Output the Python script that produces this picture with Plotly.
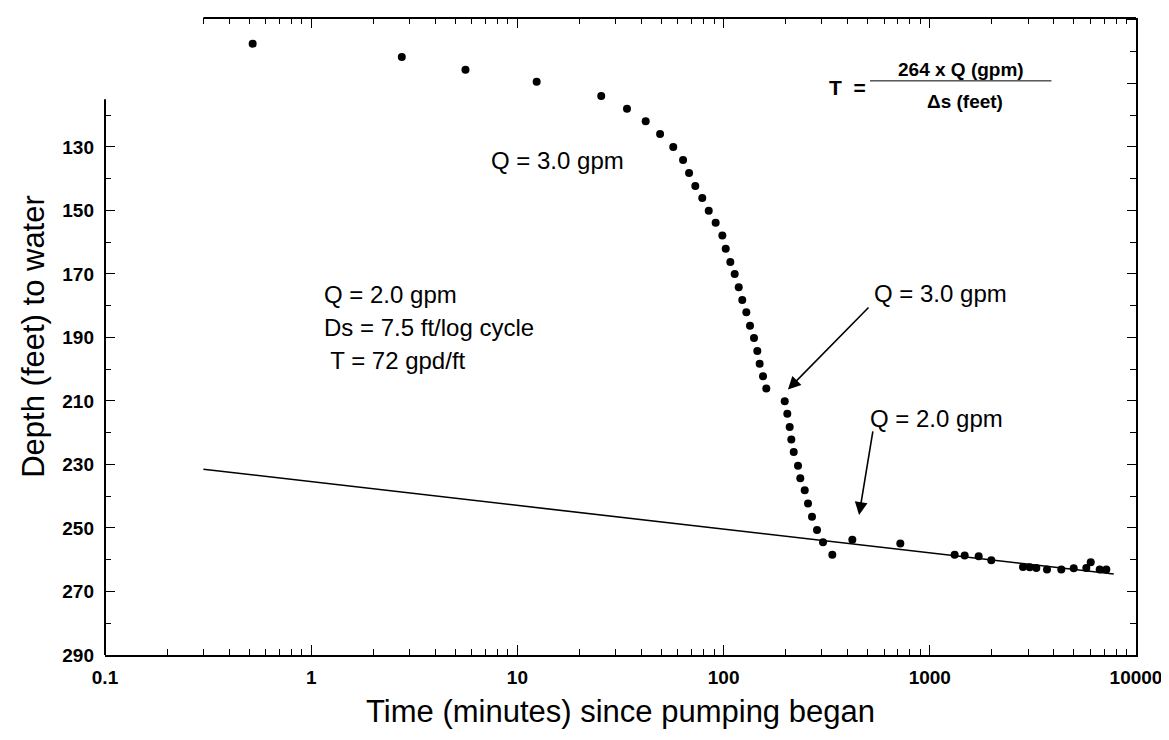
import math
import plotly.graph_objects as go

# ---- data ----
time_min = [0.52, 2.75, 5.6, 12.4, 25.5, 34.0, 41.9, 49.2, 57.0, 63.6, 68.0, 72.9, 78.8,
            84.7, 91.5, 98.6, 102.4, 107.8, 113.2, 118.4, 123.2, 128.9, 134.3, 140.4, 145.7,
            149.6, 155.3, 161.1, 197.9, 203.7, 209.2, 213.0, 218.8, 229.6, 235.5, 247.4,
            256.7, 268.4, 283.8, 303.5, 336.7, 421.0, 719.5, 1320, 1476, 1726, 1988, 2831,
            3051, 3285, 3701, 4343, 4988, 5741, 6031, 6668, 7178]
depth_ft = [97.5, 101.7, 105.7, 109.5, 114.0, 118.0, 121.9, 125.9, 130.0, 134.1, 138.2,
            142.3, 146.1, 150.1, 153.9, 157.9, 162.1, 166.2, 170.0, 174.2, 178.2, 182.1,
            186.3, 190.2, 194.3, 198.3, 202.2, 206.1, 210.1, 214.0, 218.2, 222.1, 226.1,
            230.4, 234.3, 238.1, 242.3, 246.5, 250.6, 254.5, 258.4, 253.7, 254.9, 258.4,
            258.7, 258.9, 260.2, 262.3, 262.4, 262.6, 263.1, 263.1, 262.7, 262.6, 260.8,
            263.1, 263.1]

fit_time = [0.3, 7800]
fit_depth = [231.5, 264.5]

x_major = [0.1, 1, 10, 100, 1000, 10000]
x_labels = ["0.1", "1", "10", "100", "1000", "10000"]
y_major = [130, 150, 170, 190, 210, 230, 250, 270, 290]
y_labels = [str(v) for v in y_major]

X_RANGE = [-1, 4]
Y_RANGE = [290, 89.4]
TOP_START = 0.3
LEFT_TOP = 115

x_minor = [k * d for d in [0.1, 1, 10, 100, 1000] for k in range(2, 10)]
top_major = [v for v in x_major if v >= TOP_START]
top_minor = [v for v in x_minor if v >= TOP_START]
y_minor = list(range(120, 290, 20))
y_right_major = list(range(90, 291, 20))
y_right_minor = list(range(100, 291, 20))

FONT = "Liberation Sans, Arial, Helvetica, sans-serif"
TICKFONT = dict(family=FONT, size=19, color="black", weight="bold")

fig = go.Figure()
fig.add_trace(go.Scatter(x=fit_time, y=fit_depth, mode="lines",
                         line=dict(color="black", width=1.6),
                         hoverinfo="skip", showlegend=False))
fig.add_trace(go.Scatter(x=time_min, y=depth_ft, mode="markers",
                         marker=dict(color="black", size=8),
                         showlegend=False))
# helper trace so the mirrored (top / right) axes exist
fig.add_trace(go.Scatter(x=fit_time, y=fit_depth, mode="lines", opacity=0,
                         xaxis="x2", yaxis="y2", hoverinfo="skip", showlegend=False))

fig.update_layout(
    width=1169, height=740,
    margin=dict(l=97, r=41, t=10, b=93),
    paper_bgcolor="white", plot_bgcolor="white",
    font=dict(family=FONT, color="black"),
    xaxis=dict(type="log", range=X_RANGE, showgrid=False, zeroline=False,
               showline=True, linecolor="black", linewidth=2,
               tickmode="array", tickvals=x_major, ticktext=x_labels,
               ticks="inside", ticklen=10, tickwidth=1.2, tickcolor="black",
               ticklabelstandoff=4, tickfont=TICKFONT,
               minor=dict(tickmode="array", tickvals=x_minor, ticks="inside",
                          ticklen=6, tickwidth=1, tickcolor="black", showgrid=False),
               title=dict(text="Time (minutes) since pumping began",
                          font=dict(family=FONT, size=31, color="black"), standoff=14)),
    xaxis2=dict(type="log", range=X_RANGE, overlaying="x", side="top",
                showgrid=False, zeroline=False, showline=False,
                tickmode="array", tickvals=top_major, showticklabels=False,
                ticks="inside", ticklen=10, tickwidth=1.2, tickcolor="black",
                minor=dict(tickmode="array", tickvals=top_minor, ticks="inside",
                           ticklen=6, tickwidth=1, tickcolor="black", showgrid=False)),
    yaxis=dict(range=Y_RANGE, showgrid=False, zeroline=False, showline=False,
               tickmode="array", tickvals=y_major, ticktext=y_labels,
               ticks="inside", ticklen=10, tickwidth=1.2, tickcolor="black",
               ticklabelstandoff=10, tickfont=TICKFONT,
               minor=dict(tickmode="array", tickvals=y_minor, ticks="inside",
                          ticklen=6, tickwidth=1, tickcolor="black", showgrid=False),
               title=dict(text="Depth (feet) to water",
                          font=dict(family=FONT, size=31, color="black"), standoff=8)),
    yaxis2=dict(range=Y_RANGE, overlaying="y", side="right", anchor="x",
                showgrid=False, zeroline=False, showline=True,
                linecolor="black", linewidth=2,
                tickmode="array", tickvals=y_right_major, showticklabels=False,
                ticks="inside", ticklen=9, tickwidth=1.2, tickcolor="black",
                minor=dict(tickmode="array", tickvals=y_right_minor, ticks="inside",
                           ticklen=6, tickwidth=1, tickcolor="black", showgrid=False)),
)

# partial frame lines: top border starts at 0.3 min, left border starts at 115 ft
top_x0 = (math.log10(TOP_START) - X_RANGE[0]) / (X_RANGE[1] - X_RANGE[0])
fig.add_shape(type="line", xref="paper", yref="paper", x0=top_x0, x1=1, y0=1, y1=1,
              line=dict(color="black", width=2))
fig.add_shape(type="line", xref="paper", yref="y", x0=0, x1=0, y0=LEFT_TOP, y1=Y_RANGE[0],
              line=dict(color="black", width=2))

def note(text, lx, y, size=24, anchor="left", weight="normal"):
    fig.add_annotation(text=text, x=lx, y=y, xref="x", yref="y", showarrow=False,
                       xanchor=anchor, yanchor="middle",
                       font=dict(family=FONT, size=size, color="black", weight=weight))

note("Q = 3.0 gpm", 0.86, 134.4)
note("Q = 2.0 gpm", 0.05, 176.6)
note("Ds = 7.5 ft/log cycle", 0.05, 187.0)
note(" T = 72 gpd/ft", 0.05, 197.4)
note("Q = 3.0 gpm", 2.72, 176.3)
note("Q = 2.0 gpm", 2.70, 215.4)

# formula
note("T  =", 2.50, 111.3, size=21, weight="bold")
note("264 x Q (gpm)", 3.15, 105.5, size=19, anchor="center", weight="bold")
note("\u0394s (feet)", 3.17, 115.6, size=19, anchor="center", weight="bold")
fig.add_shape(type="line", xref="paper", yref="y", x0=0.742, x1=0.918, y0=109.2, y1=109.2,
              line=dict(color="black", width=1))

# arrows
fig.add_annotation(x=2.312, y=206.4, ax=2.71, ay=180.1, xref="x", yref="y",
                   axref="x", ayref="y", text="", showarrow=True,
                   arrowhead=2, arrowsize=1.6, arrowwidth=1.6, arrowcolor="black")
fig.add_annotation(x=2.657, y=245.9, ax=2.725, ay=219.1, xref="x", yref="y",
                   axref="x", ayref="y", text="", showarrow=True,
                   arrowhead=2, arrowsize=1.6, arrowwidth=1.6, arrowcolor="black")

fig.write_html("out.html")
